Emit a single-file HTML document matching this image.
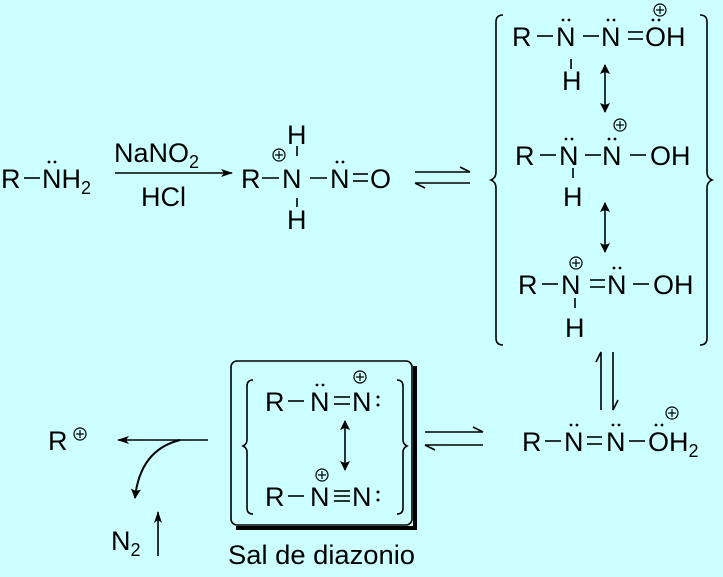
<!DOCTYPE html>
<html><head><meta charset="utf-8"><style>
html,body{margin:0;padding:0;background:#ccffff;}
svg{display:block;}
text{font-family:"Liberation Sans",sans-serif;font-size:27px;fill:#000;}
.s{font-size:18px;}
</style></head><body>
<svg width="723" height="577" viewBox="0 0 723 577" xmlns="http://www.w3.org/2000/svg">
<defs>
<marker id="ah" markerWidth="12" markerHeight="8" refX="11" refY="4" orient="auto" markerUnits="userSpaceOnUse"><path d="M0,0 L12,4 L0,8 L3,4Z" fill="#000"/></marker>
<marker id="ahs" markerWidth="10" markerHeight="14" refX="9" refY="7" orient="auto-start-reverse" markerUnits="userSpaceOnUse"><path d="M0,2 L10,7 L0,12 L2,7Z" fill="#000"/></marker>
<g id="plus"><circle cx="0" cy="0" r="6" fill="none" stroke="#000" stroke-width="1.2"/><line x1="-4" y1="0" x2="4" y2="0" stroke="#000" stroke-width="1.2"/><line x1="0" y1="-4" x2="0" y2="4" stroke="#000" stroke-width="1.2"/></g>
<g id="dd"><circle cx="-3" cy="0" r="1.4" fill="#000"/><circle cx="3" cy="0" r="1.4" fill="#000"/></g>
</defs>
<g stroke="#000" stroke-width="1.6" fill="none">
<line x1="24" y1="178" x2="40" y2="178"/>
<line x1="115" y1="173" x2="232" y2="173" marker-end="url(#ah)"/>
<line x1="262" y1="178" x2="279" y2="178"/>
<line x1="297" y1="146" x2="297" y2="156"/>
<line x1="297" y1="198" x2="297" y2="207"/>
<line x1="310" y1="178" x2="327" y2="178"/>
<line x1="353" y1="174" x2="368" y2="174"/><line x1="353" y1="181" x2="368" y2="181"/>
<path d="M415,172 L470,172 L460,167"/>
<path d="M470,183 L415,183 L425,188"/>
<path d="M503,15 Q496,15 496,22 L496,172 Q496,178 491,180 Q496,182 496,188 L496,338 Q496,345 503,345"/>
<path d="M700,15 Q707,15 707,22 L707,172 Q707,178 712,180 Q707,182 707,188 L707,338 Q707,345 700,345"/>
<line x1="537" y1="36" x2="553" y2="36"/>
<line x1="583" y1="36" x2="599" y2="36"/>
<line x1="628" y1="32" x2="643" y2="32"/><line x1="628" y1="39" x2="643" y2="39"/>
<line x1="571" y1="59" x2="571" y2="69"/>
<line x1="605" y1="65" x2="605" y2="112" marker-start="url(#ahs)" marker-end="url(#ahs)"/>
<line x1="540" y1="155" x2="556" y2="155"/>
<line x1="585" y1="155" x2="601" y2="155"/>
<line x1="630" y1="155" x2="646" y2="155"/>
<line x1="573" y1="168" x2="573" y2="178"/>
<line x1="605" y1="203" x2="605" y2="252" marker-start="url(#ahs)" marker-end="url(#ahs)"/>
<line x1="542" y1="284" x2="558" y2="284"/>
<line x1="590" y1="280" x2="605" y2="280"/><line x1="590" y1="287" x2="605" y2="287"/>
<line x1="633" y1="284" x2="649" y2="284"/>
<line x1="575" y1="298" x2="575" y2="308"/>
<path d="M601,410 L601,352 L596,362"/>
<path d="M613,352 L613,410 L618,400"/>
<line x1="545" y1="441" x2="561" y2="441"/>
<line x1="587" y1="437" x2="602" y2="437"/><line x1="587" y1="444" x2="602" y2="444"/>
<line x1="629" y1="441" x2="645" y2="441"/>
<path d="M425,432 L483,432 L473,427"/>
<path d="M483,445 L425,445 L435,450"/>
<rect x="231" y="361" width="181" height="164" rx="6"/>
<path d="M253,380 Q247,380 247,386 L247,440 Q247,444 243,446 Q247,448 247,452 L247,508 Q247,514 253,514"/>
<path d="M397,380 Q403,380 403,386 L403,440 Q403,444 407,446 Q403,448 403,452 L403,508 Q403,514 397,514"/>
<line x1="288" y1="401" x2="304" y2="401"/>
<line x1="334" y1="397" x2="350" y2="397"/><line x1="334" y1="404" x2="350" y2="404"/>
<line x1="345" y1="421" x2="345" y2="470" marker-start="url(#ahs)" marker-end="url(#ahs)"/>
<line x1="288" y1="496" x2="304" y2="496"/>
<line x1="334" y1="491" x2="350" y2="491"/><line x1="334" y1="496" x2="350" y2="496"/><line x1="334" y1="501" x2="350" y2="501"/>
<line x1="208" y1="440" x2="118" y2="440" marker-end="url(#ah)"/>
<path d="M180,440 Q140,450 135,498" stroke-width="2" marker-end="url(#ahs)"/>
<line x1="158" y1="556" x2="158" y2="512" marker-end="url(#ah)"/>
</g>
<path d="M413,366 L417,366 L417,530 L236,530 L236,526 L413,526Z" fill="#000"/>
<text x="1" y="188">R</text>
<text x="42" y="188">NH<tspan class="s" dy="6">2</tspan></text><use href="#dd" x="52" y="162"/>
<text x="114" y="162">NaNO<tspan class="s" dy="6">2</tspan></text>
<text x="141" y="206">HCl</text>
<text x="241" y="188">R</text><use href="#plus" x="279" y="155"/>
<text x="282" y="188">N</text>
<text x="287" y="144">H</text>
<text x="287" y="229">H</text>
<text x="330" y="188">N</text><use href="#dd" x="340" y="162"/>
<text x="370" y="188">O</text>
<text x="512" y="46">R</text>
<text x="556" y="46">N</text><use href="#dd" x="566" y="20"/>
<text x="601" y="46">N</text><use href="#dd" x="611" y="20"/>
<text x="645" y="46">OH</text><use href="#dd" x="656" y="20"/><use href="#plus" x="660" y="10"/>
<text x="562" y="90">H</text>
<text x="515" y="165">R</text>
<text x="559" y="165">N</text><use href="#dd" x="569" y="139"/>
<text x="602" y="165">N</text><use href="#dd" x="612" y="139"/><use href="#plus" x="620" y="125"/>
<text x="650" y="165">OH</text>
<text x="563" y="206">H</text>
<text x="518" y="294">R</text>
<text x="561" y="294">N</text><use href="#plus" x="576" y="263"/>
<text x="607" y="294">N</text><use href="#dd" x="617" y="268"/>
<text x="653" y="294">OH</text>
<text x="565" y="337">H</text>
<text x="522" y="451">R</text>
<text x="564" y="451">N</text><use href="#dd" x="574" y="425"/>
<text x="606" y="451">N</text><use href="#dd" x="616" y="425"/>
<text x="648" y="451">OH<tspan class="s" dy="6">2</tspan></text><use href="#dd" x="659" y="425"/><use href="#plus" x="672" y="413"/>
<text x="265" y="411">R</text>
<text x="310" y="411">N</text><use href="#dd" x="320" y="385"/>
<text x="352" y="411">N</text><use href="#plus" x="360" y="377"/>
<circle cx="378" cy="397" r="1.5"/><circle cx="378" cy="405" r="1.5"/>
<text x="265" y="506">R</text>
<text x="310" y="506">N</text><use href="#plus" x="322" y="475"/>
<text x="352" y="506">N</text>
<circle cx="378" cy="492" r="1.5"/><circle cx="378" cy="500" r="1.5"/>
<text x="228" y="564" textLength="187" lengthAdjust="spacingAndGlyphs">Sal de diazonio</text>
<text x="48" y="450">R</text><use href="#plus" x="80" y="434"/>
<text x="111" y="550">N<tspan class="s" dy="6">2</tspan></text>
</svg>
</body></html>
